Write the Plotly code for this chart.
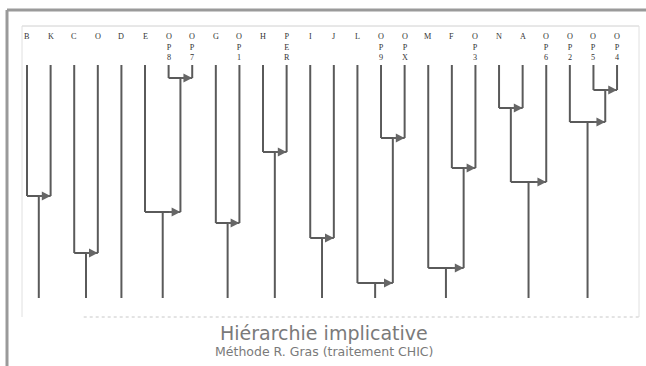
import plotly.graph_objects as go

# ---- data ----
leaves = ["B", "K", "C", "O", "D", "E", "OP8", "OP7", "G", "OP1", "H", "PER", "I",
          "J", "L", "OP9", "OPX", "M", "F", "OP3", "N", "A", "OP6", "OP2", "OP5", "OP4"]
# implicative merges: left node -> right node, at level (distance from top of tree)
merge_left = ["OP8", "OP5", "N", "OP2", "OP9", "H", "F", "N-A", "B", "E",
              "G", "I", "C", "M", "L"]
merge_right = ["OP7", "OP4", "A", "OP5-OP4", "OPX", "PER", "OP3", "OP6", "K", "OP8-OP7",
               "OP1", "J", "O", "F-OP3", "OP9-OPX"]
merge_level = [13, 25, 43, 57, 73, 87, 103, 117, 131, 147, 158, 173, 188, 203, 218]
base_level = 233
title_main = "Hiérarchie implicative"
title_sub = "Méthode R. Gras (traitement CHIC)"

# ---- build tree geometry ----
pos = {name: i for i, name in enumerate(leaves)}
top = {name: 0 for name in leaves}
roots = set(leaves)
xs, ys = [], []
arrows = []
for l, r, lev in zip(merge_left, merge_right, merge_level):
    xl, xr = pos[l], pos[r]
    xs += [xl, xl, None, xr, xr, None, xl, xr, None]
    ys += [top[l], lev, None, top[r], lev, None, lev, lev, None]
    arrows.append((xl, xr, lev))
    node = l + "-" + r
    pos[node] = (xl + xr) / 2
    top[node] = lev
    roots.discard(l)
    roots.discard(r)
    roots.add(node)
for n in roots:
    xs += [pos[n], pos[n], None]
    ys += [top[n], base_level, None]

fig = go.Figure()
fig.add_trace(go.Scatter(x=xs, y=ys, mode="lines",
                         line=dict(color="#5a5a5a", width=2), hoverinfo="skip",
                         showlegend=False))

annotations = []
for xl, xr, lev in arrows:
    annotations.append(dict(x=xr, y=lev, ax=xr - 0.55, ay=lev, xref="x", yref="y",
                            axref="x", ayref="y", text="", showarrow=True,
                            arrowhead=2, arrowsize=1.1, arrowwidth=1.6,
                            arrowcolor="#666666"))
for i, name in enumerate(leaves):
    annotations.append(dict(x=i, y=-34, xref="x", yref="y", text="<br>".join(name),
                            showarrow=False, yanchor="top", xanchor="center",
                            borderpad=0,
                            font=dict(family="Liberation Serif", size=8.2,
                                      color="#333333")))
annotations.append(dict(x=0.49, y=-0.055, xref="paper", yref="paper", text=title_main,
                        showarrow=False, yanchor="middle",
                        font=dict(family="DejaVu Sans", size=19, color="#7a7a7a")))
annotations.append(dict(x=0.49, y=-0.117, xref="paper", yref="paper", text=title_sub,
                        showarrow=False, yanchor="middle",
                        font=dict(family="DejaVu Sans", size=12.5, color="#7a7a7a")))

shapes = [
    # inner frame
    dict(type="line", xref="paper", yref="paper", x0=0, x1=1, y0=1, y1=1,
         line=dict(color="#d0d0d0", width=1)),
    dict(type="line", xref="paper", yref="paper", x0=0, x1=0, y0=0, y1=1,
         line=dict(color="#e0e0e0", width=1)),
    dict(type="line", xref="paper", yref="paper", x0=1, x1=1, y0=0, y1=1,
         line=dict(color="#e0e0e0", width=1)),
    dict(type="line", xref="paper", yref="paper", x0=0.1, x1=1, y0=0, y1=0,
         line=dict(color="#c8c8c8", width=1, dash="dot")),
    # outer frame
    dict(type="line", xref="paper", yref="paper", x0=-0.0243, x1=1.02, y0=1.055, y1=1.055,
         line=dict(color="#9a9a9a", width=3)),
    dict(type="line", xref="paper", yref="paper", x0=-0.0243, x1=-0.0243, y0=1.055, y1=-0.17,
         line=dict(color="#9a9a9a", width=3)),
]

fig.update_layout(
    width=646, height=366,
    margin=dict(l=22, r=7, t=26, b=49),
    paper_bgcolor="white", plot_bgcolor="white",
    xaxis=dict(range=[-0.212, 25.93], visible=False, fixedrange=True),
    yaxis=dict(range=[252, -39], visible=False, fixedrange=True),
    annotations=annotations, shapes=shapes, showlegend=False,
)
fig.write_html("out.html", config={"displayModeBar": False},
               post_script="document.body.style.margin='0px';")
